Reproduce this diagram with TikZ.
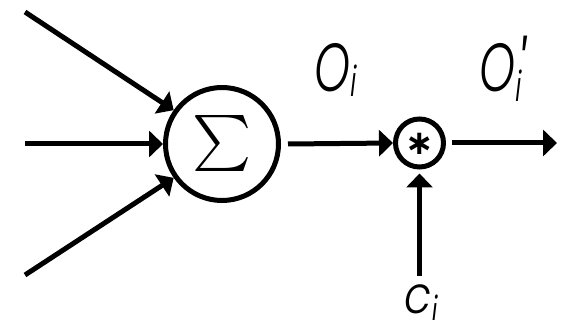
\documentclass[tikz,border=0pt]{standalone}
\usepackage{fontspec}
\newfontfamily\labfont{Poppins Light Italic}[FakeStretch=0.67]
\newfontfamily\cfont{Poppins Light Italic}[FakeStretch=0.85]
\newfontfamily\symfont{DejaVu Sans}
\usetikzlibrary{arrows.meta}
% lowered subscript i
\newcommand{\subi}[1]{\raisebox{-#1}{\labfont\fontsize{42}{42}\selectfont i}}
\begin{document}
\begin{tikzpicture}[x=1pt,y=-1pt,
  wire/.style={line width=5pt},
  arr/.style={wire,-{Triangle[length=14pt,width=26pt]}},
  unit/.style={circle,draw,line width=5pt,inner sep=0pt},
  lab/.style={anchor=base west,inner sep=0pt,font=\labfont\fontsize{68}{68}\selectfont}]
\useasboundingbox (0,0) rectangle (562,320);
% summing unit and product unit
\node[unit,minimum size=113pt] (sum) at (222,144) {};
\node (sigma) at (222,144) {\scalebox{5.6}{$\sum$}};
\node[unit,minimum size=48pt] (mul) at (419.5,143) {};
\node[font=\symfont\bfseries\fontsize{34}{34}\selectfont] (star) at (420,144) {∗};
% free ends of the connectors
\coordinate (in1) at (25,12);
\coordinate (in2) at (25,144);
\coordinate (in3) at (25,275);
\coordinate (out) at (557,143);
\coordinate (cin) at (419.5,276);
% inputs into the sum
\draw[arr] (in1) -- (sum.145);
\draw[arr] (in2) -- (sum.west);
\draw[arr] (in3) -- (sum.215);
% sum -> product -> output
\draw[arr] ([xshift=7pt]sum.east) -- (mul.west);
\draw[arr] ([xshift=6pt]mul.east) -- (out);
\draw[arr,shorten >=4pt] (cin) -- (mul.south);
% labels
\node[lab] (oi) at (314,92) {O\subi{5pt}};
\node[lab] (opi) at (479,92) {O\rlap{\kern2pt\raisebox{-5pt}{\fontsize{76}{76}\selectfont '}}\subi{10pt}};
\node[lab,font=\cfont\fontsize{52}{52}\selectfont] (ci) at (404,313) {c\subi{13pt}};
\end{tikzpicture}
\end{document}
